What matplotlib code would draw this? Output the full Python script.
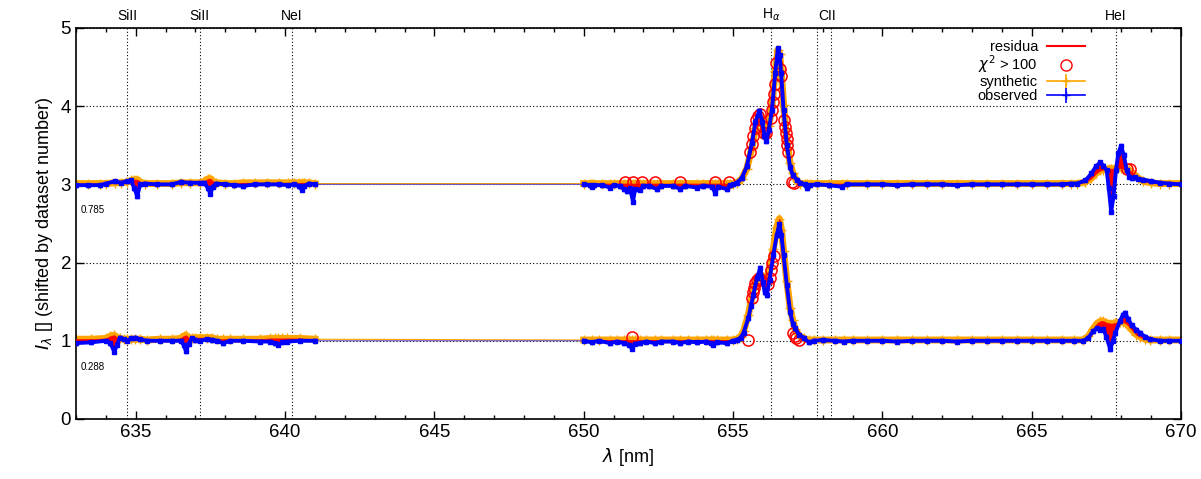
import numpy as np
import matplotlib
matplotlib.use("Agg")
import matplotlib.pyplot as plt
from matplotlib.ticker import MultipleLocator
from matplotlib.lines import Line2D

plt.rcParams["font.family"] = ["Liberation Sans", "DejaVu Sans"]
plt.rcParams["mathtext.fontset"] = "dejavusans"

# dataset 2 (shifted by +2), phase 0.785
wl_2 = [
    633.0, 633.4, 633.8, 634.0, 634.3,
    634.5, 634.7, 634.85, 634.95, 635.05,
    635.15, 635.3, 635.7, 636.2, 636.5,
    636.8, 637.15, 637.3, 637.42, 637.5,
    637.58, 637.7, 638.0, 638.3, 638.6,
    639.0, 639.4, 639.8, 640.1, 640.3,
    640.45, 640.56, 640.65, 640.8, 641.0,
    650.0, 650.2, 650.27, 650.35, 650.6,
    650.88, 651.0, 651.2, 651.35, 651.45,
    651.55, 651.65, 651.72, 651.88, 652.0,
    652.2, 652.44, 652.6, 653.0, 653.23,
    653.4, 653.78, 654.0, 654.3, 654.4,
    654.5, 654.79, 654.9, 655.0, 655.12,
    655.29, 655.46, 655.63, 655.75, 655.88,
    655.98, 656.05, 656.11, 656.2, 656.3,
    656.41, 656.5, 656.56, 656.61, 656.69,
    656.8, 656.91, 657.0, 657.13, 657.25,
    657.4, 657.47, 657.56, 657.8, 658.2,
    658.64, 658.8, 659.5, 660.0, 660.5,
    661.0, 661.5, 662.0, 662.5, 663.0,
    663.5, 664.0, 664.5, 665.0, 665.5,
    666.0, 666.3, 666.51, 666.8, 667.0,
    667.15, 667.29, 667.4, 667.51, 667.58,
    667.66, 667.74, 667.82, 667.9, 667.99,
    668.08, 668.18, 668.27, 668.35, 668.45,
    668.55, 668.74, 669.0, 669.3, 669.6,
    670.0,
]
obs_2 = [
    0.99, 0.99, 0.99, 1.01, 1.04,
    1.02, 1.04, 1.05, 0.95, 0.85,
    1.00, 1.01, 1.00, 1.00, 1.03,
    1.02, 1.02, 1.02, 0.95, 0.88,
    0.97, 1.01, 1.00, 0.99, 0.98,
    1.00, 1.00, 1.00, 0.99, 1.00,
    0.98, 0.93, 0.98, 1.01, 1.00,
    1.00, 0.99, 0.97, 0.99, 0.99,
    0.96, 0.99, 0.98, 0.94, 0.91,
    0.95, 0.78, 0.94, 0.93, 0.98,
    0.98, 0.94, 0.98, 0.98, 0.94,
    0.98, 0.96, 0.98, 0.97, 0.89,
    0.97, 0.94, 0.99, 1.00, 1.02,
    1.08, 1.23, 1.53, 1.80, 1.94,
    1.80, 1.62, 1.55, 1.70, 1.95,
    2.42, 2.74, 2.65, 2.42, 1.95,
    1.50, 1.22, 1.12, 1.06, 1.02,
    1.00, 0.95, 0.99, 1.00, 0.99,
    0.97, 1.00, 1.00, 1.00, 0.99,
    1.00, 1.00, 1.00, 0.99, 1.00,
    1.00, 1.00, 1.00, 1.00, 1.00,
    1.00, 1.01, 1.01, 1.05, 1.14,
    1.23, 1.28, 1.24, 1.18, 0.95,
    0.65, 0.85, 1.18, 1.40, 1.49,
    1.38, 1.18, 1.10, 1.08, 1.09,
    1.07, 1.06, 1.04, 1.02, 1.01,
    1.00,
]
syn_2 = [
    1.01, 1.01, 1.01, 1.01, 1.02,
    1.02, 1.03, 1.05, 1.06, 1.06,
    1.03, 1.01, 1.01, 1.01, 1.02,
    1.02, 1.02, 1.04, 1.07, 1.07,
    1.04, 1.02, 1.01, 1.01, 1.02,
    1.02, 1.02, 1.02, 1.02, 1.02,
    1.02, 1.02, 1.02, 1.02, 1.01,
    1.01, 1.01, 1.01, 1.01, 1.01,
    1.01, 1.01, 1.01, 1.01, 1.01,
    1.01, 1.01, 1.01, 1.01, 1.01,
    1.01, 1.01, 1.01, 1.01, 1.01,
    1.01, 1.01, 1.01, 1.01, 1.01,
    1.01, 1.01, 1.01, 1.01, 1.02,
    1.07, 1.20, 1.47, 1.72, 1.88,
    1.80, 1.68, 1.62, 1.75, 2.00,
    2.45, 2.72, 2.67, 2.46, 2.02,
    1.56, 1.27, 1.15, 1.04, 1.01,
    1.01, 1.01, 1.01, 1.01, 1.01,
    1.01, 1.01, 1.01, 1.01, 1.01,
    1.01, 1.01, 1.01, 1.01, 1.01,
    1.01, 1.01, 1.01, 1.01, 1.01,
    1.01, 1.01, 1.01, 1.03, 1.08,
    1.14, 1.18, 1.19, 1.19, 1.20,
    1.20, 1.20, 1.20, 1.21, 1.21,
    1.20, 1.19, 1.18, 1.15, 1.12,
    1.08, 1.04, 1.02, 1.01, 1.01,
    1.01,
]
chi_wl_2 = [651.38, 651.66, 651.94, 652.39, 653.23, 654.4, 654.85,
            655.58, 655.63, 655.68, 655.73, 655.78, 655.84, 655.9,
            655.98, 656.04, 656.1,
            656.27, 656.3, 656.33, 656.36, 656.4,
            656.44, 656.58, 656.61,
            656.7, 656.73, 656.76, 656.79, 656.82, 656.85,
            656.98, 657.03, 668.2, 668.3]
chi_val_2 = [1.03, 1.03, 1.03, 1.03, 1.03, 1.03, 1.03,
             1.42, 1.52, 1.62, 1.72, 1.82, 1.88, 1.90,
             1.75, 1.66, 1.66,
             1.85, 1.95, 2.05, 2.15, 2.28,
             2.55, 2.48, 2.38,
             1.82, 1.74, 1.66, 1.58, 1.50, 1.42,
             1.03, 1.02, 1.20, 1.20]

# dataset 1 (no shift), phase 0.288
wl_1 = [
    633.0, 633.5, 634.0, 634.15, 634.28,
    634.38, 634.47, 634.6, 634.7, 634.85,
    634.98, 635.15, 635.37, 635.8, 636.2,
    636.5, 636.6, 636.68, 636.78, 636.87,
    637.0, 637.15, 637.38, 637.55, 637.71,
    637.93, 638.16, 638.6, 639.16, 639.5,
    639.65, 639.77, 639.9, 640.06, 640.5,
    641.0,
    650.0, 650.27, 650.5, 650.88, 651.1,
    651.35, 651.5, 651.61, 651.7, 651.88,
    652.1, 652.38, 652.6, 653.0, 653.23,
    653.5, 653.8, 654.1, 654.25, 654.34,
    654.45, 654.79, 655.0, 655.12, 655.25,
    655.35, 655.51, 655.6, 655.68, 655.8,
    655.91, 656.0, 656.06, 656.13, 656.22,
    656.35, 656.46, 656.55, 656.62, 656.69,
    656.8, 656.91, 657.0, 657.08, 657.2,
    657.36, 657.53, 657.7, 658.0, 658.4,
    658.7, 659.0, 659.5, 660.0, 660.5,
    661.0, 661.5, 662.0, 662.5, 663.0,
    663.5, 664.0, 664.5, 665.0, 665.5,
    666.0, 666.4, 666.73, 666.9, 667.05,
    667.18, 667.3, 667.4, 667.5, 667.63,
    667.72, 667.8, 667.95, 668.05, 668.13,
    668.22, 668.35, 668.5, 668.63, 668.8,
    668.97, 669.3, 669.6, 670.0,
]
obs_1 = [
    0.97, 0.98, 1.00, 0.97, 0.86,
    0.95, 1.04, 1.02, 1.00, 1.03,
    1.04, 1.02, 1.00, 1.00, 1.00,
    1.00, 0.95, 0.87, 0.96, 1.03,
    1.01, 1.00, 1.02, 1.01, 1.00,
    0.97, 1.00, 1.00, 0.99, 0.99,
    0.97, 0.95, 0.98, 0.99, 1.00,
    1.00,
    1.00, 0.98, 1.00, 0.97, 0.99,
    0.97, 0.95, 0.90, 0.96, 0.97,
    0.99, 0.97, 0.99, 0.99, 0.97,
    0.99, 0.98, 0.99, 0.97, 0.95,
    0.98, 0.97, 1.00, 1.01, 1.04,
    1.10, 1.29, 1.45, 1.59, 1.80,
    1.93, 1.75, 1.62, 1.58, 1.78,
    2.10, 2.35, 2.49, 2.35, 2.10,
    1.71, 1.37, 1.22, 1.16, 1.08,
    1.04, 0.98, 1.00, 1.01, 1.00,
    0.99, 1.00, 1.00, 1.00, 0.99,
    1.00, 1.00, 1.00, 0.99, 1.00,
    1.00, 1.00, 1.00, 1.00, 1.00,
    1.00, 1.00, 1.00, 1.04, 1.12,
    1.16, 1.14, 1.15, 1.05, 0.89,
    1.00, 1.10, 1.25, 1.33, 1.36,
    1.28, 1.20, 1.14, 1.10, 1.05,
    1.02, 1.00, 1.00, 1.00,
]
syn_1 = [
    1.02, 1.02, 1.03, 1.06, 1.07,
    1.04, 1.03, 1.02, 1.02, 1.02,
    1.02, 1.02, 1.01, 1.02, 1.02,
    1.03, 1.06, 1.07, 1.04, 1.03,
    1.04, 1.04, 1.04, 1.04, 1.02,
    1.02, 1.02, 1.02, 1.02, 1.03,
    1.03, 1.03, 1.03, 1.03, 1.03,
    1.02,
    1.01, 1.01, 1.01, 1.01, 1.01,
    1.01, 1.01, 1.01, 1.01, 1.01,
    1.01, 1.01, 1.01, 1.01, 1.01,
    1.01, 1.01, 1.01, 1.01, 1.01,
    1.01, 1.01, 1.01, 1.02, 1.05,
    1.12, 1.33, 1.50, 1.66, 1.78,
    1.85, 1.82, 1.80, 1.80, 1.92,
    2.18, 2.45, 2.56, 2.42, 2.15,
    1.76, 1.42, 1.26, 1.15, 1.07,
    1.03, 1.01, 1.01, 1.01, 1.01,
    1.01, 1.01, 1.01, 1.01, 1.01,
    1.01, 1.01, 1.01, 1.01, 1.01,
    1.01, 1.01, 1.01, 1.01, 1.01,
    1.01, 1.01, 1.01, 1.06, 1.15,
    1.22, 1.25, 1.25, 1.23, 1.22,
    1.22, 1.23, 1.24, 1.24, 1.23,
    1.20, 1.14, 1.08, 1.05, 1.02,
    1.01, 1.01, 1.01, 1.01,
]
chi_wl_1 = [651.61, 655.5,
            655.62, 655.66, 655.7, 655.75, 655.8, 655.86, 655.92,
            656.17, 656.22, 656.27, 656.32, 656.36,
            657.0, 657.06, 657.12, 657.2]
chi_val_1 = [1.05, 1.01,
             1.55, 1.62, 1.68, 1.74, 1.78, 1.80, 1.78,
             1.72, 1.80, 1.90, 2.00, 2.08,
             1.10, 1.06, 1.03, 1.01]

datasets = [
    (wl_1, obs_1, syn_1, chi_wl_1, chi_val_1, 0.0, "0.288"),
    (wl_2, obs_2, syn_2, chi_wl_2, chi_val_2, 2.0, "0.785"),
]

# identified lines
line_wl = [634.71, 637.14, 640.22, 656.28, 657.81, 658.29, 667.82]
label_wl = [634.71, 637.14, 640.22, 656.28, 658.15, 667.82]
label_txt = ["SiII", "SiII", "NeI", r"H$_\alpha$", "CII", "HeI"]

err_obs = 0.02
err_syn = 0.02


def plot_dataset(ax, wl, obs, syn, chi_wl, chi_val, shift):
    wl = np.asarray(wl)
    obs = np.asarray(obs) + shift
    syn = np.asarray(syn) + shift
    assert len(wl) == len(obs) == len(syn)
    # thin lines join the two spectral windows
    ax.plot(wl, syn, color="orange", lw=0.8, zorder=2)
    ax.plot(wl, obs, color="#6a4fc0", lw=0.8, zorder=5)
    cut = np.where(np.diff(wl) > 2)[0] + 1
    for idx in np.split(np.arange(len(wl)), cut):
        ax.errorbar(wl[idx], syn[idx], yerr=err_syn, color="orange", lw=5,
                    marker="+", ms=7, elinewidth=1, ecolor="#ffc04d",
                    capsize=0, zorder=2.2)
        ax.fill_between(wl[idx], syn[idx], obs[idx], color="red", lw=0.6,
                        edgecolor="red", zorder=2.6)
        ax.errorbar(wl[idx], obs[idx], yerr=err_obs, color="blue", lw=2.8,
                    marker="s", ms=2.2, elinewidth=0.8, capsize=1.2,
                    zorder=5)
    ax.plot(chi_wl, np.asarray(chi_val) + shift, ls="none", marker="o",
            ms=8, mfc="none", mec="red", mew=1.1, zorder=4)


fig = plt.figure(figsize=(12.01, 4.79), dpi=100)
ax = fig.add_axes([0.0633, 0.1253, 0.9201, 0.8163])

for wl, obs, syn, cw, cv, shift, phase in datasets:
    plot_dataset(ax, wl, obs, syn, cw, cv, shift)
    ax.text(633.15, shift + 0.67, phase, fontsize=7, ha="left", va="center")

for x in line_wl:
    ax.axvline(x, color="black", ls=(0, (1, 2)), lw=0.8, zorder=1)
for x, t in zip(label_wl, label_txt):
    ax.text(x, 1.012, t, transform=ax.get_xaxis_transform(), ha="center",
            va="bottom", fontsize=10)

ax.set_xlim(633, 670)
ax.set_ylim(0, 5)
ax.xaxis.set_major_locator(MultipleLocator(5))
ax.xaxis.set_minor_locator(MultipleLocator(1))
ax.yaxis.set_major_locator(MultipleLocator(1))
ax.yaxis.grid(True, color="black", ls=(0, (1, 2)), lw=0.8)
ax.set_axisbelow(True)
ax.tick_params(which="both", direction="in", top=True, right=True,
               labelsize=13.5, width=1)
ax.tick_params(which="major", length=6)
ax.tick_params(which="minor", length=3)
for s in ax.spines.values():
    s.set_linewidth(1.2)

ax.set_xlabel(r"$\lambda$ [nm]", fontsize=13)
ax.set_ylabel(r"$I_\lambda$ [] (shifted by dataset number)", fontsize=13)

handles = [
    Line2D([], [], color="red", lw=1.5),
    Line2D([], [], ls="none", marker="o", ms=8, mfc="none", mec="red"),
    ax.errorbar([], [], yerr=[], color="orange", marker="+", lw=1.2,
                capsize=3),
    ax.errorbar([], [], yerr=[], color="blue", marker="+", lw=1.2,
                capsize=3),
]
labels = ["residua", r"$\chi^2$ > 100", "synthetic", "observed"]
ax.legend(handles, labels, loc="upper right", bbox_to_anchor=(0.918, 0.985),
          frameon=False, markerfirst=False, fontsize=10.5, handlelength=2.6,
          labelspacing=0.0, handletextpad=0.6, borderaxespad=0)

fig.savefig("out.png", dpi=100)
